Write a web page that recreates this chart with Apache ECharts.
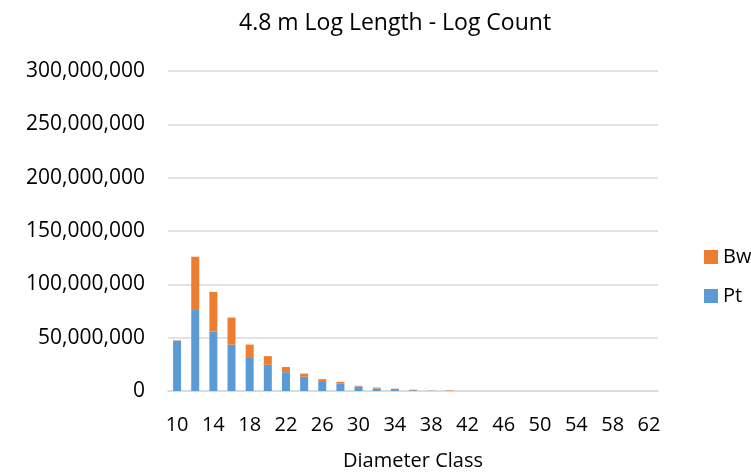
<!DOCTYPE html>
<html>
<head>
<meta charset="utf-8">
<script src="https://cdn.jsdelivr.net/npm/echarts@6/dist/echarts.min.js"></script>
<style>html,body{margin:0;padding:0;background:#fff}#c{width:751px;height:476px}</style>
</head>
<body>
<div id="c"></div>
<script>
const categories = ['10','12','14','16','18','20','22','24','26','28','30','32','34','36','38','40','42','44','46','48','50','52','54','56','58','60','62'];
const ptValues = [47200000,75900000,55800000,43500000,31800000,24600000,17600000,13500000,9300000,7000000,4300000,2300000,1800000,600000,200000,100000,0,0,0,0,0,0,0,0,0,0,0];
const bwValues = [300000,50000000,37100000,25300000,11700000,8100000,4900000,2800000,1800000,1600000,600000,900000,400000,600000,100000,400000,0,0,0,0,0,0,0,0,0,0,0];
const titleText = '4.8 m Log Length - Log Count';
const xAxisTitle = 'Diameter Class';

const FONT = '"Open Sans", sans-serif';
const chart = echarts.init(document.getElementById('c'), null, {renderer: 'canvas'});
chart.setOption({
  animation: false,
  backgroundColor: '#fff',
  title: {
    text: titleText, left: 234, top: 7,
    textStyle: {fontFamily: FONT, fontSize: 23, fontWeight: 'normal', color: '#000'}
  },
  legend: {
    data: ['Bw', 'Pt'], orient: 'vertical', left: 699, top: 242,
    itemWidth: 14, itemHeight: 14, itemGap: 19, icon: 'rect',
    textStyle: {fontFamily: FONT, fontSize: 20, color: '#000'}
  },
  grid: {left: 168, right: 93, top: 71, bottom: 80, containLabel: false},
  xAxis: {
    type: 'category', data: categories,
    name: xAxisTitle, nameLocation: 'middle', nameGap: 60,
    nameTextStyle: {fontFamily: FONT, fontSize: 20, color: '#000'},
    axisLine: {show: true, lineStyle: {color: '#d9d9d9', width: 1.5}},
    axisTick: {show: false},
    axisLabel: {interval: 1, margin: 24, fontFamily: FONT, fontSize: 20, color: '#000'}
  },
  yAxis: {
    type: 'value', min: 0, max: 300000000, interval: 50000000,
    axisLine: {show: false}, axisTick: {show: false},
    splitLine: {lineStyle: {color: '#d9d9d9', width: 1.5}},
    axisLabel: {margin: 23, fontFamily: FONT, fontSize: 21, color: '#000',
      formatter: v => v.toLocaleString('en-US')}
  },
  series: [
    {name: 'Pt', type: 'bar', stack: 't', data: ptValues, barWidth: 8, itemStyle: {color: '#5B9BD5'}},
    {name: 'Bw', type: 'bar', stack: 't', data: bwValues, barWidth: 8, itemStyle: {color: '#ED7D31'}}
  ]
});
</script>
</body>
</html>
